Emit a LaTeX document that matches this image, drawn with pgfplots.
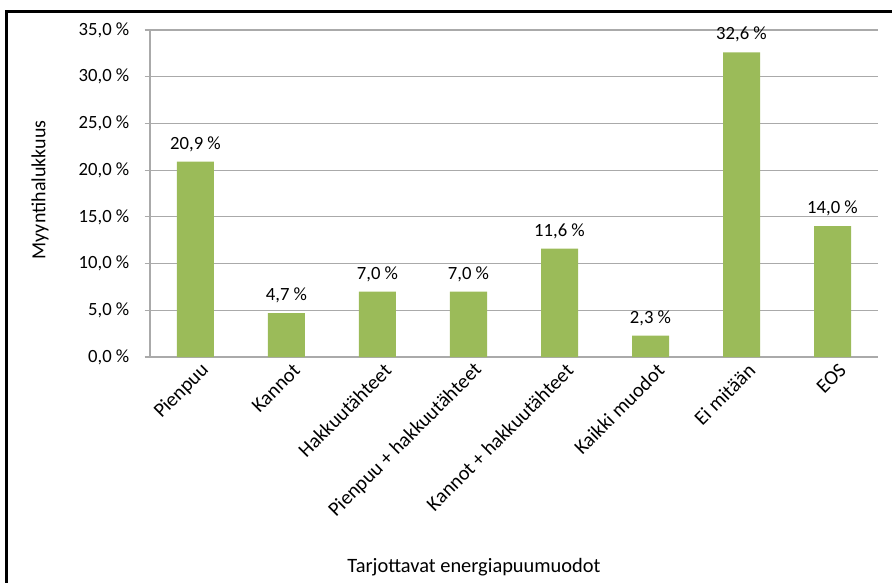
\documentclass[border=0pt]{standalone}
\usepackage{pgfplots}
\pgfplotsset{compat=1.18}
\usepackage{fontspec}
\setmainfont{Carlito}
\definecolor{bargreen}{RGB}{155,187,89}
\definecolor{gridgray}{RGB}{170,170,170}
\begin{document}
\begin{tikzpicture}
\begin{axis}[
  name=ax,
  scale only axis, width=546pt, height=245.25pt,
  font=\fontsize{14}{16}\selectfont,
  xmin=-0.5, xmax=7.5, ymin=0, ymax=35,
  ytick={0,5,...,35},
  xtick={0,...,7},
  xticklabels={Pienpuu,Kannot,Hakkuutähteet,Pienpuu + hakkuutähteet,Kannot + hakkuutähteet,Kaikki muodot,Ei mitään,EOS},
  xticklabel style={font=\fontsize{15.2}{17}\selectfont, rotate=45, anchor=east, inner sep=1pt, xshift=4pt, yshift=-8pt},
  major x tick style={draw=none},
  axis x line*=bottom, axis y line*=left,
  axis line style={gridgray, line width=0.9pt},
  tick style={gridgray, line width=0.9pt},
  tick align=outside, major tick length=4pt,
  ymajorgrids, grid style={gridgray, line width=0.9pt},
  /pgf/number format/assume math mode=true,
  yticklabel={\pgfmathprintnumber[fixed,fixed zerofill,precision=1,use comma]{\tick}\ \%},
  yticklabel style={xshift=-8pt},
  ylabel={Myyntihalukkuus},
  ylabel style={font=\fontsize{15}{17}\selectfont, at={(axis description cs:-0.151,0.511)}, anchor=center},
  xlabel={Tarjottavat energiapuumuodot},
  xlabel style={font=\fontsize{15.3}{17}\selectfont, at={(axis description cs:0.445,-0.642)}, anchor=center},
  clip=false,
]
\addplot[ybar, bar width=27.75pt, fill=bargreen, draw=none,
  nodes near coords={\pgfmathprintnumber[fixed,fixed zerofill,precision=1,use comma]{\pgfplotspointmeta}\ \%},
  nodes near coords style={font=\fontsize{14}{16}\selectfont, /pgf/number format/assume math mode=true, yshift=4pt},
] coordinates {
  (0,20.9) (1,4.7) (2,7.0) (3,7.0) (4,11.6) (5,2.3) (6,32.6) (7,14.0)
};
\end{axis}
% page area and outer chart frame, placed from the axis corner
\path (ax.south west) ++(-112.5pt,-168.75pt) coordinate (bl);
\pgfresetboundingbox
\path[use as bounding box] (bl) rectangle ++(669pt,436.5pt);
\draw[line width=2.25pt] (bl) ++(5.25pt,-20pt) -- ++(0,447.5pt) -- ++(700pt,0);
\end{tikzpicture}
\end{document}
